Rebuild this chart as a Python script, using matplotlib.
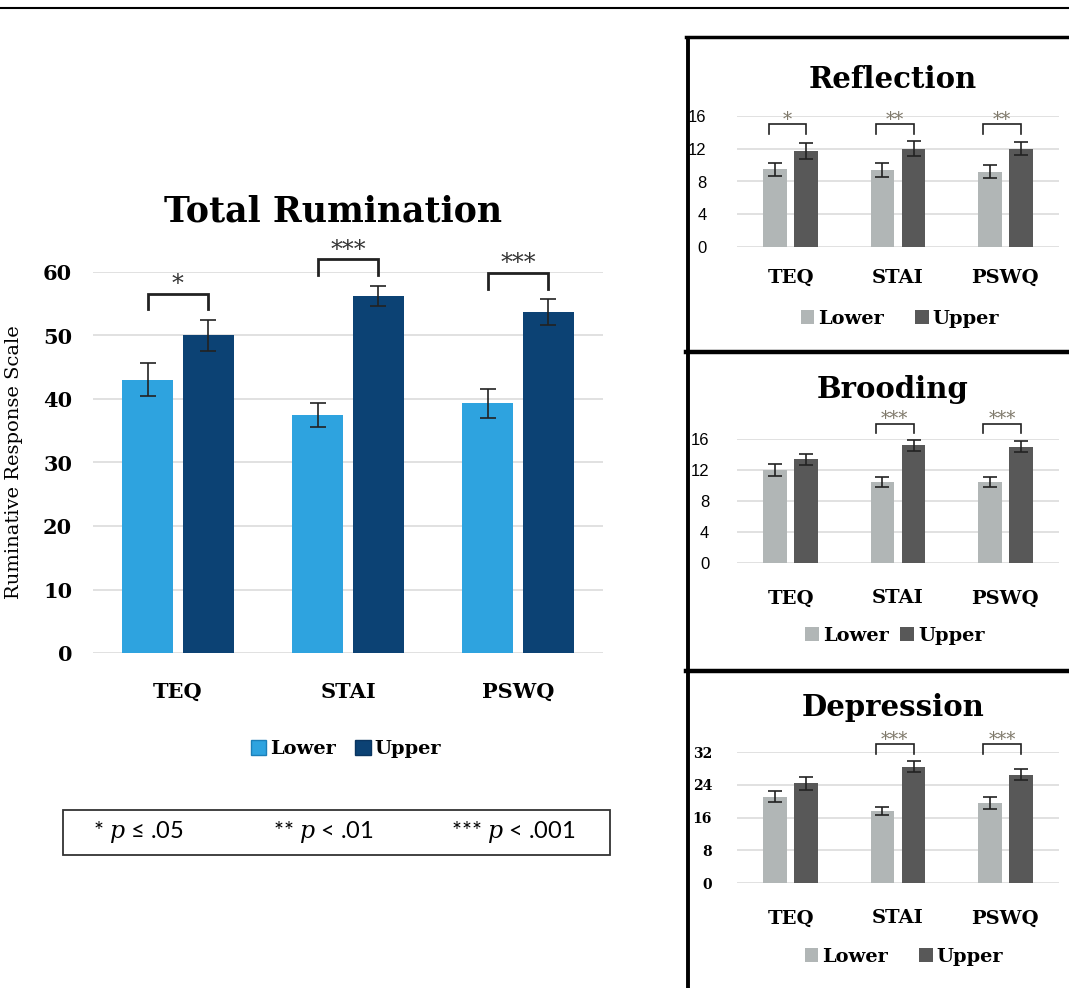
import numpy as np
import matplotlib
matplotlib.use("Agg")
import matplotlib.pyplot as plt
from matplotlib.lines import Line2D
from matplotlib.patches import Patch, Rectangle

W, H = 1069, 988

categories = ['TEQ', 'STAI', 'PSWQ']
series_names = ['Lower', 'Upper']

# Total rumination
total_lower = [43.0, 37.5, 39.3]
total_lower_err = [2.6, 1.9, 2.3]
total_upper = [50.0, 56.2, 53.7]
total_upper_err = [2.4, 1.6, 2.0]
total_sig = ['*', '***', '***']

# Reflection
refl_lower = [9.5, 9.4, 9.2]
refl_lower_err = [0.8, 0.8, 0.8]
refl_upper = [11.7, 12.0, 12.0]
refl_upper_err = [0.95, 0.9, 0.8]
refl_sig = ['*', '**', '**']

# Brooding
brood_lower = [12.0, 10.5, 10.5]
brood_lower_err = [0.8, 0.65, 0.65]
brood_upper = [13.4, 15.2, 15.0]
brood_upper_err = [0.7, 0.7, 0.7]
brood_sig = ['', '***', '***']

# Depression
dep_lower = [21.1, 17.6, 19.5]
dep_lower_err = [1.4, 1.0, 1.4]
dep_upper = [24.4, 28.4, 26.5]
dep_upper_err = [1.6, 1.3, 1.35]
dep_sig = ['', '***', '***']

plt.rcParams['font.family'] = 'DejaVu Serif'
plt.rcParams['mathtext.fontset'] = 'custom'
plt.rcParams['mathtext.it'] = 'DejaVu Serif:italic'


def fx(px):
    return px / W


def fy(py):
    return 1 - py / H


def axes_at(fig, x0, x1, ytop, ybot):
    return fig.add_axes([fx(x0), fy(ybot), fx(x1) - fx(x0), fy(ytop) - fy(ybot)])


fig = plt.figure(figsize=(W / 100, H / 100), dpi=100)


def draw_bars(ax, lower, lower_err, upper, upper_err, c_lo, c_hi, width, off,
              capsize, ymax, ticks):
    x = np.arange(len(categories))
    ax.bar(x - off, lower, width, color=c_lo, zorder=2)
    ax.bar(x + off, upper, width, color=c_hi, zorder=2)
    ax.errorbar(x - off, lower, yerr=lower_err, fmt='none', ecolor='#222222',
                elinewidth=1.2, capsize=capsize, capthick=1.2, zorder=3)
    ax.errorbar(x + off, upper, yerr=upper_err, fmt='none', ecolor='#222222',
                elinewidth=1.2, capsize=capsize, capthick=1.2, zorder=3)
    ax.set_xlim(-0.5, len(categories) - 0.5)
    ax.set_ylim(0, ymax)
    ax.set_yticks(ticks)
    ax.set_xticks(x)
    ax.set_xticklabels(categories)
    ax.yaxis.grid(True, color='#d9d9d9', lw=1.1)
    ax.set_axisbelow(True)
    for s in ax.spines.values():
        s.set_visible(False)
    ax.tick_params(length=0)
    return x


def draw_brackets(ax, x, upper, upper_err, lower, lower_err, sig, off,
                  leg_gap, top_gap, star_gap, star_size, star_color, lw,
                  shared=False, x_shift=0.0):
    tops = [max(u + ue, l + le) for u, ue, l, le in zip(upper, upper_err, lower, lower_err)]
    if shared:
        lvl = max(t for t, s in zip(tops, sig) if s)
        tops = [lvl] * len(tops)
    for xi, t, s in zip(x, tops, sig):
        if not s:
            continue
        y0 = t + leg_gap
        y1 = t + top_gap
        xl, xr = xi - off - x_shift, xi + off
        ax.plot([xl, xl, xr, xr], [y0, y1, y1, y0], color='#222222', lw=lw,
                clip_on=False, zorder=4, solid_joinstyle='miter')
        ax.text((xl + xr) / 2, y1 + star_gap, s, ha='center', va='bottom',
                fontsize=star_size, color=star_color, clip_on=False)


# ---------------- main chart ----------------
ax = axes_at(fig, 93, 603, 272, 653)
x = draw_bars(ax, total_lower, total_lower_err, total_upper, total_upper_err,
              '#2ea3df', '#0c4274', 0.30, 0.178, 6, 60, [0, 10, 20, 30, 40, 50, 60])
ax.tick_params(axis='y', pad=15, labelsize=15)
ax.tick_params(axis='x', pad=21, labelsize=15)
for t in ax.get_xticklabels() + ax.get_yticklabels():
    t.set_fontweight('bold')
ax.set_ylabel('Ruminative Response Scale', fontsize=14)
ax.yaxis.set_label_coords((23 - 93) / (603 - 93), 0.5)
draw_brackets(ax, x, total_upper, total_upper_err, total_lower, total_lower_err,
              total_sig, 0.178, 1.7, 4.2, -0.4, 17, '#333333', 2.0)
fig.text(fx(333), fy(212), 'Total Rumination', ha='center', va='center',
         fontsize=25, fontweight='bold')

handles = [Patch(facecolor='#2ea3df', edgecolor='#1b7fb8'),
           Patch(facecolor='#0c4274', edgecolor='#0a3560')]
fig.legend(handles, series_names, loc='center', bbox_to_anchor=(fx(346), fy(749)),
           ncol=2, frameon=False, handlelength=0.8, handleheight=0.8,
           handletextpad=0.2, columnspacing=1.0,
           prop={'weight': 'bold', 'size': 14})

fig.add_artist(Rectangle((fx(63), fy(855)), fx(610) - fx(63), fy(810) - fy(855),
                         transform=fig.transFigure, fill=False,
                         edgecolor='#333333', lw=1.3))
for xp, s in [(93, '* $p$ ≤ .05'), (273, '** $p$ < .01'), (451, '*** $p$ < .001')]:
    fig.text(fx(xp), fy(832), s, ha='left', va='center', fontsize=17,
             family=['Lato', 'DejaVu Sans'])

# ---------------- right panels ----------------
panels = [
    ('Reflection', refl_lower, refl_lower_err, refl_upper, refl_upper_err, refl_sig,
     116, 247, 16, [0, 4, 8, 12, 16], 80, 319, 22, 16, False, 900, 1.6),
    ('Brooding', brood_lower, brood_lower_err, brood_upper, brood_upper_err, brood_sig,
     439, 563, 16, [0, 4, 8, 12, 16], 390, 636, 20, 19, False, 895, 0.6),
    ('Depression', dep_lower, dep_lower_err, dep_upper, dep_upper_err, dep_sig,
     752, 883, 32, [0, 8, 16, 24, 32], 708, 957, 18, 19, True, 904, 1.6),
]

for (name, lo, lo_e, up, up_e, sig, ytop, ybot, ymax, ticks, ty, ly,
     ypad, xpad, bold_ticks, lx, colsp) in panels:
    a = axes_at(fig, 737, 1059, ytop, ybot)
    xx = draw_bars(a, lo, lo_e, up, up_e, '#b1b6b6', '#585858', 0.22, 0.145, 5,
                   ymax, ticks)
    a.tick_params(axis='x', pad=xpad, labelsize=14)
    for t in a.get_xticklabels():
        t.set_fontweight('bold')
    if bold_ticks:
        a.tick_params(axis='y', pad=ypad, labelsize=10)
        for t in a.get_yticklabels():
            t.set_fontweight('bold')
    else:
        a.tick_params(axis='y', pad=ypad, labelsize=12)
        for t in a.get_yticklabels():
            t.set_family('Liberation Sans')
    draw_brackets(a, xx, up, up_e, lo, lo_e, sig, 0.145, ymax * 0.055,
                  ymax * 0.13, -ymax * 0.035, 13, '#807a6c', 1.2,
                  shared=True, x_shift=0.06)
    fig.text(fx(893), fy(ty), name, ha='center', va='center', fontsize=21,
             fontweight='bold')
    hh = [Patch(facecolor='#b1b6b6'), Patch(facecolor='#585858')]
    fig.legend(hh, series_names, loc='center', bbox_to_anchor=(fx(lx), fy(ly)),
               ncol=2, frameon=False, handlelength=0.7, handleheight=0.7,
               handletextpad=0.2, columnspacing=colsp,
               prop={'weight': 'bold', 'size': 14})

# frames
fig.add_artist(Line2D([0, 1], [fy(8), fy(8)], color='black', lw=1.5,
                      transform=fig.transFigure))
fig.add_artist(Line2D([fx(686), 1], [fy(37), fy(37)], color='black', lw=2.5,
                      transform=fig.transFigure))
fig.add_artist(Line2D([fx(688), fx(688)], [fy(37), 0], color='black', lw=2.8,
                      transform=fig.transFigure, solid_capstyle='butt'))
for yy in [352, 671]:
    fig.add_artist(Line2D([fx(686), 1], [fy(yy), fy(yy)], color='black', lw=3.2,
                          transform=fig.transFigure))

fig.savefig('out.png', dpi=100)
